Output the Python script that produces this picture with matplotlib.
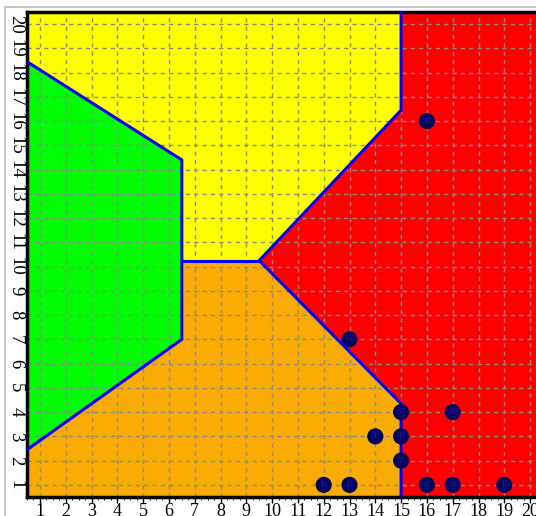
import matplotlib
matplotlib.use("Agg")
import matplotlib.pyplot as plt
from matplotlib.patches import Polygon
from matplotlib.lines import Line2D
from matplotlib.ticker import MultipleLocator

# Region polygons (data coordinates)
green_region = [(0.5, 18.45), (6.5, 14.4), (6.5, 7.0), (0.5, 2.45)]
yellow_region = [(0.5, 20.5), (15, 20.5), (15, 16.45), (9.5, 10.25), (6.5, 10.25),
                 (6.5, 14.4), (0.5, 18.45)]
red_region = [(15, 20.5), (20.5, 20.5), (20.5, 0.5), (15, 0.5), (15, 4.35),
              (9.5, 10.25), (15, 16.45)]
orange_region = [(0.5, 0.5), (15, 0.5), (15, 4.35), (9.5, 10.25), (6.5, 10.25),
                 (6.5, 7.0), (0.5, 2.45)]
region_colors = ["#00ff00", "#ffff00", "#ff0000", "#f9ab00"]

# Boundary polylines
boundaries = [
    [(0.5, 18.45), (6.5, 14.4), (6.5, 7.0), (0.5, 2.45)],
    [(6.5, 10.25), (9.5, 10.25)],
    [(15, 20.5), (15, 16.45), (9.5, 10.25), (15, 4.35), (15, 0.5)],
]

# Points
pt_x = [16, 13, 15, 17, 14, 15, 15, 12, 13, 16, 17, 19]
pt_y = [16, 7, 4, 4, 3, 3, 2, 1, 1, 1, 1, 1]
pt_labels = ["98", "61", "67", "20", "88", "08", "55", "48", "43", "88", "39", "16"]

ticks = list(range(1, 21))

W, H = 536, 516
fig = plt.figure(figsize=(W / 100, H / 100), dpi=100)
ax = fig.add_axes([27 / W, (H - 497) / H, (543 - 27) / W, (497 - 12) / H])
ax.set_xlim(0.5, 20.5)
ax.set_ylim(0.5, 20.5)

regions = [green_region, yellow_region, red_region, orange_region]
for verts, c in zip(regions, region_colors):
    ax.add_patch(Polygon(verts, closed=True, facecolor=c, edgecolor="none", zorder=1))

# Grid at integer positions only
ax.vlines(ticks, 0.5, 20.5, colors="#8a8a8a", linestyles=(0, (3, 3)), lw=1.0, zorder=2)
ax.hlines(ticks, 0.5, 20.5, colors="#8a8a8a", linestyles=(0, (3, 3)), lw=1.0, zorder=2)

for b in boundaries:
    xs, ys = zip(*b)
    ax.plot(xs, ys, color="#0000ff", lw=2.2, zorder=3, solid_joinstyle="miter")

ax.set_xticks(ticks)
ax.set_yticks(ticks)
ax.xaxis.set_minor_locator(MultipleLocator(0.25))
ax.grid(False)

ax.scatter(pt_x, pt_y, s=135, color="#00005e", zorder=5, edgecolors="none")
for x, y, t in zip(pt_x, pt_y, pt_labels):
    ax.text(x, y, t, fontsize=6.5, color="#20209a", ha="center", va="center", zorder=6,
            family="Liberation Serif")

ax.set_xticklabels([str(t) for t in ticks], family="Liberation Serif", fontsize=13)
ax.set_yticklabels([str(t) for t in ticks], family="Liberation Serif", fontsize=13.5,
                   rotation=270, va="center")
ax.tick_params(axis="x", which="major", length=4, width=1, pad=0)
ax.tick_params(axis="x", which="minor", length=2, width=0.6)
ax.tick_params(axis="y", which="major", length=0, pad=2)
for s in ax.spines.values():
    s.set_linewidth(2.5)
    s.set_color("black")

fig.add_artist(Line2D([5 / W, 1], [1 - 7 / H, 1 - 7 / H], color="#c8c8c8", lw=1.5))
fig.add_artist(Line2D([5 / W, 5 / W], [0, 1 - 7 / H], color="#c8c8c8", lw=1.5))

fig.savefig("out.png", dpi=100)
